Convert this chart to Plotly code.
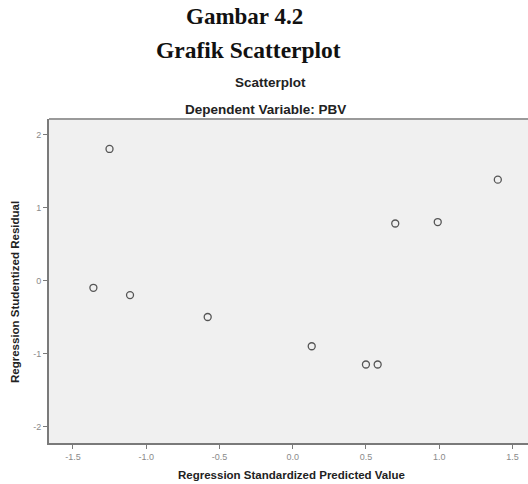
import plotly.graph_objects as go

# Data
predicted = [-1.25, -1.36, -1.11, -0.58, 0.13, 0.50, 0.58, 0.70, 0.99, 1.40]
residual = [1.80, -0.10, -0.20, -0.50, -0.90, -1.15, -1.15, 0.78, 0.80, 1.38]
x_ticks = [-1.5, -1.0, -0.5, 0.0, 0.5, 1.0, 1.5]
x_labels = ["-1.5", "-1.0", "-0.5", "0.0", "0.5", "1.0", "1.5"]
y_ticks = [-2, -1, 0, 1, 2]
y_labels = ["-2", "-1", "0", "1", "2"]

fig = go.Figure()
fig.add_trace(go.Scatter(
    x=predicted, y=residual, mode="markers",
    marker=dict(symbol="circle-open", size=7, color="#555555", line=dict(width=1.3, color="#555555")),
    showlegend=False, hoverinfo="skip",
))

axis_common = dict(
    showgrid=False, zeroline=False, showline=True, linecolor="#7a7a7a", linewidth=2,
    ticks="outside", ticklen=4, tickcolor="#7a7a7a", tickwidth=1,
    tickfont=dict(family="Liberation Sans, Arial", size=9, color="#8a8a8a"),
)
fig.update_xaxes(range=[-1.663, 1.606], tickvals=x_ticks, ticktext=x_labels, **axis_common)
fig.update_yaxes(range=[-2.224, 2.21], tickvals=y_ticks, ticktext=y_labels, **axis_common)

fig.add_shape(type="line", xref="paper", yref="paper", x0=0, x1=1, y0=1, y1=1,
              line=dict(color="#9a9a9a", width=2))

serif = "Liberation Serif, Times New Roman"
sans = "Liberation Sans, Arial"
annots = [
    dict(text="<b>Gambar 4.2</b>", x=0.409, y=1.315, font=dict(family=serif, size=23, color="#111")),
    dict(text="<b>Grafik Scatterplot</b>", x=0.4175, y=1.212, font=dict(family=serif, size=23.5, color="#111")),
    dict(text="<b>Scatterplot</b>", x=0.463, y=1.114, font=dict(family=sans, size=13.5, color="#222")),
    dict(text="<b>Dependent Variable: PBV</b>", x=0.453, y=1.028, font=dict(family=sans, size=13.5, color="#222")),
    dict(text="<b>Regression Standardized Predicted Value</b>", x=0.507, y=-0.099,
         font=dict(family=sans, size=11.5, color="#222")),
    dict(text="<b>Regression Studentized Residual</b>", x=-0.071, y=0.466, textangle=-90,
         font=dict(family=sans, size=11.5, color="#222")),
]
for a in annots:
    fig.add_annotation(xref="paper", yref="paper", showarrow=False,
                       xanchor="center", yanchor="middle", **a)

fig.update_layout(
    width=528, height=484,
    margin=dict(l=49, r=0, t=119, b=41),
    paper_bgcolor="white", plot_bgcolor="#f0f0f0",
)
# remove the default 8px page margin so the figure fills the window exactly
fig.write_html("out.html", config={"displayModeBar": False},
               post_script="document.body.style.margin='0px';")
